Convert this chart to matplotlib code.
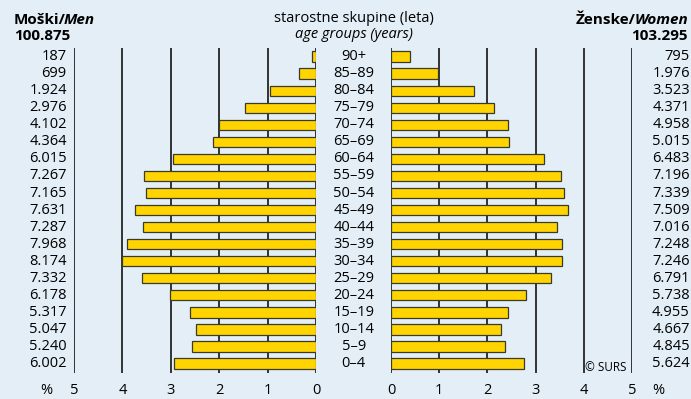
import matplotlib
matplotlib.use('Agg')
import numpy as np
from matplotlib import pyplot as plt

plt.rcParams['font.family'] = ['Open Sans', 'DejaVu Sans']

# starostne skupine, od najmlajše do najstarejše
ages = ['0–4', '5–9', '10–14', '15–19', '20–24', '25–29', '30–34', '35–39',
        '40–44', '45–49', '50–54', '55–59', '60–64', '65–69', '70–74',
        '75–79', '80–84', '85–89', '90+']
men = [6002, 5240, 5047, 5317, 6178, 7332, 8174, 7968, 7287, 7631,
       7165, 7267, 6015, 4364, 4102, 2976, 1924, 699, 187]
women = [5624, 4845, 4667, 4955, 5738, 6791, 7246, 7248, 7016, 7509,
         7339, 7196, 6483, 5015, 4958, 4371, 3523, 1976, 795]
men_total = 100875
women_total = 103295
ticks = [0, 1, 2, 3, 4, 5]

total = men_total + women_total
men_pct = np.array(men) / total * 100
women_pct = np.array(women) / total * 100


def fmt(n):
    return f'{n:,}'.replace(',', '.')


bg = '#e3eef6'
bar_col = '#ffd400'
W, H = 691, 399
fig = plt.figure(figsize=(W / 100, H / 100), dpi=100, facecolor=bg)

y = np.arange(len(ages))
ylim = (-0.55, len(ages) - 0.5)
bot = (H - 373) / H
hgt = (373 - 48) / H
axL = fig.add_axes([74 / W, bot, (316 - 74) / W, hgt])
axR = fig.add_axes([391 / W, bot, (632 - 391) / W, hgt])

for ax, vals in ((axL, men_pct), (axR, women_pct)):
    ax.set_facecolor(bg)
    for t in ticks:
        ax.axvline(t, color='black', lw=1.1, zorder=1)
    ax.barh(y, vals, height=0.6, color=bar_col, edgecolor='#3a3a2a',
            linewidth=0.9, zorder=2)
    ax.set_ylim(*ylim)
    ax.set_yticks([])
    ax.set_xticks([])
    for s in ax.spines.values():
        s.set_visible(False)

axL.set_xlim(5, 0)
axR.set_xlim(0, 5)

fs = 10.5
# vrednosti ob straneh in starostne skupine v sredini
for i in range(len(ages)):
    axL.text(5.15, i, fmt(men[i]), ha='right', va='center', fontsize=fs)
    axR.text(6.2, i, fmt(women[i]), ha='right', va='center', fontsize=fs)
    axL.text(-0.78, i, ages[i], ha='center', va='center', fontsize=fs)

# oznake osi x
for t in ticks:
    axL.text(t, -1.6, str(t), ha='center', va='center', fontsize=fs)
    axR.text(t, -1.6, str(t), ha='center', va='center', fontsize=fs)
axL.text(5.58, -1.6, '%', ha='center', va='center', fontsize=fs)
axR.text(5.55, -1.6, '%', ha='center', va='center', fontsize=fs)

axR.text(4.88, -0.25, '© SURS', ha='right', va='center', fontsize=8.5)

# naslovi
tfs = 11
r = fig.canvas.get_renderer()
t1 = fig.text(14 / W, 1 - 20 / H, 'Moški/', fontsize=tfs, fontweight='bold',
              ha='left', va='center')
x1 = t1.get_window_extent(r).x1 - 2
fig.text(x1 / W, 1 - 20 / H, 'Men', fontsize=tfs, fontweight='bold',
         style='italic', ha='left', va='center')
fig.text(14 / W, 1 - 36 / H, fmt(men_total), fontsize=tfs, fontweight='bold',
         ha='left', va='center')
fig.text(354 / W, 1 - 19 / H, 'starostne skupine (leta)', fontsize=fs,
         ha='center', va='center')
fig.text(354 / W, 1 - 34 / H, 'age groups (years)', fontsize=fs,
         style='italic', ha='center', va='center')
t2 = fig.text(688 / W, 1 - 20 / H, 'Women', fontsize=tfs, fontweight='bold',
              style='italic', ha='right', va='center')
x0 = t2.get_window_extent(r).x0 + 1
fig.text(x0 / W, 1 - 20 / H, 'Ženske/', fontsize=tfs, fontweight='bold',
         ha='right', va='center')
fig.text(688 / W, 1 - 36 / H, fmt(women_total), fontsize=tfs,
         fontweight='bold', ha='right', va='center')

fig.savefig('out.png', dpi=100, facecolor=bg)
